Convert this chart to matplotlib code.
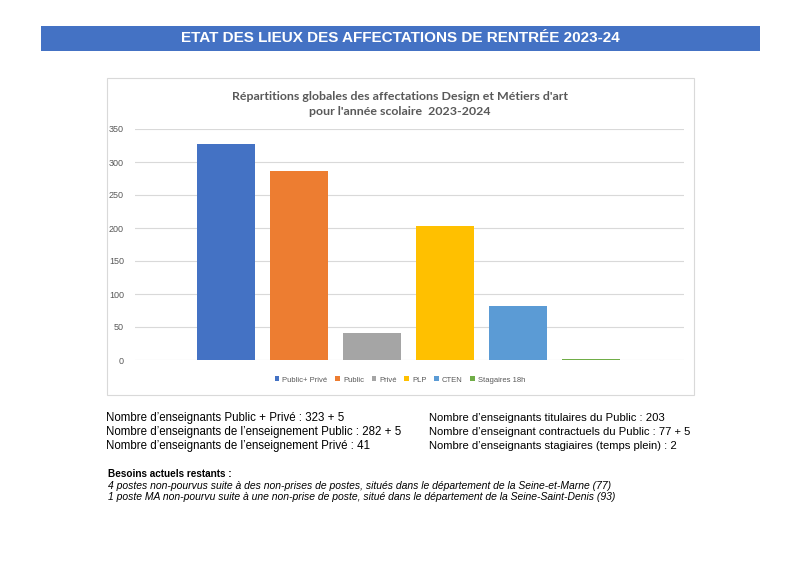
import matplotlib.pyplot as plt
from matplotlib.patches import Rectangle

# data
series = ['Public+ Privé', 'Public', 'Privé', 'PLP', 'CTEN', 'Stagaires 18h']
values = [328, 287, 41, 203, 82, 2]
colors = ['#4472C4', '#ED7D31', '#A5A5A5', '#FFC000', '#5B9BD5', '#70AD47']
yticks = [0, 50, 100, 150, 200, 250, 300, 350]

left_lines = [
    "Nombre d\u2019enseignants Public + Privé : 323 + 5",
    "Nombre d\u2019enseignants de l\u2019enseignement Public : 282 + 5",
    "Nombre d\u2019enseignants de l\u2019enseignement Privé : 41",
]
right_lines = [
    "Nombre d\u2019enseignants titulaires du Public : 203",
    "Nombre d\u2019enseignant contractuels du Public : 77 + 5",
    "Nombre d\u2019enseignants stagiaires (temps plein) : 2",
]
besoins = [
    "4 postes non-pourvus suite à des non-prises de postes, situés dans le département de la Seine-et-Marne (77)",
    "1 poste MA non-pourvu suite à une non-prise de poste, situé dans le département de la Seine-Saint-Denis (93)",
]

plt.rcParams['font.family'] = ['Liberation Sans', 'DejaVu Sans']

fig = plt.figure(figsize=(8, 5.66), dpi=100)
H = 566.0

def fy(py):
    return 1 - py / H

# header band
fig.patches.append(Rectangle((41 / 800, fy(51)), 719 / 800, 25 / H, transform=fig.transFigure,
                             facecolor='#4472C4', edgecolor='none', zorder=-2))
fig.text(0.5, fy(38.5), "ETAT DES LIEUX DES AFFECTATIONS DE RENTRÉE 2023-24", color='white',
         fontsize=11, fontweight='bold', ha='center', va='center')

# chart frame
fig.patches.append(Rectangle((107 / 800, fy(395)), 587 / 800, 317 / H, transform=fig.transFigure,
                             facecolor='white', edgecolor='#D9D9D9', linewidth=0.8, zorder=-2))

ax = fig.add_axes([135 / 800, fy(360), 549 / 800, 231 / H])
for i, (v, c, s) in enumerate(zip(values, colors, series)):
    ax.bar(i, v, width=0.79, color=c, label=s, zorder=3)
ax.set_xlim(-1.25, 6.27)
ax.set_ylim(0, 350)
ax.set_yticks(yticks)
ax.set_xticks([])
ax.grid(axis='y', color='#D9D9D9', linewidth=0.8, zorder=0)
for sp in ax.spines.values():
    sp.set_visible(False)
ax.tick_params(axis='y', length=0, labelsize=6.5, labelcolor='#595959', pad=8)
ax.set_facecolor('none')

fig.text(0.5, fy(96), "Répartitions globales des affectations Design et Métiers d'art",
         fontsize=8.9, fontweight='bold', color='#595959', ha='center', va='center', family=['Lato', 'DejaVu Sans'])
fig.text(0.5, fy(111), "pour l'année scolaire  2023-2024",
         fontsize=8.9, fontweight='bold', color='#595959', ha='center', va='center', family=['Lato', 'DejaVu Sans'])

ax.legend(loc='center', bbox_to_anchor=(0.5, fy(380)), bbox_transform=fig.transFigure, ncol=6,
          frameon=False, handlelength=0.6, handleheight=0.6, handletextpad=0.4,
          columnspacing=1.0, labelcolor='#595959', prop={'family': 'Liberation Sans', 'size': 5.5})

for k, line in enumerate(left_lines):
    fig.text(106 / 800, fy(418 + 14 * k), line, fontsize=8.3, va='center', ha='left')
for k, line in enumerate(right_lines):
    fig.text(429 / 800, fy(418 + 14 * k), line, fontsize=8.1, va='center', ha='left')

fig.text(108 / 800, fy(474), "Besoins actuels restants :", fontsize=7.2, fontweight='bold', va='center')
for k, line in enumerate(besoins):
    fig.text(108 / 800, fy(486 + 11 * k), line, fontsize=7.5, style='italic', va='center')

fig.savefig('out.png', dpi=100)
